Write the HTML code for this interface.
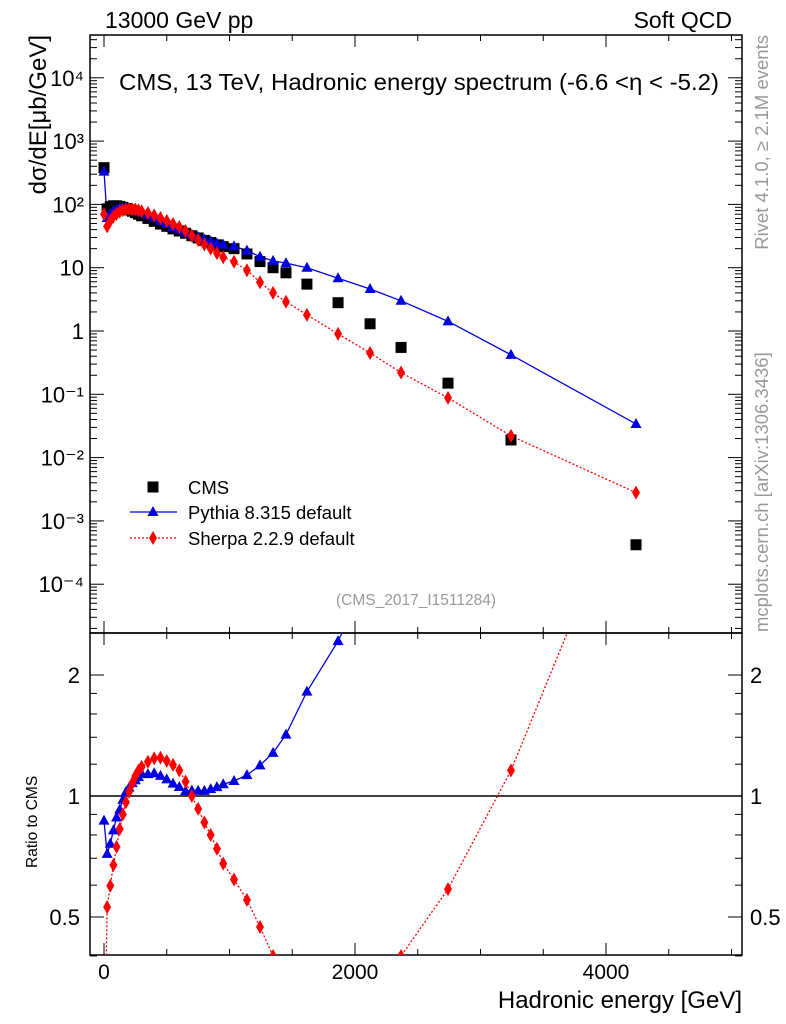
<!DOCTYPE html>
<html><head><meta charset="utf-8"><style>
html,body{margin:0;padding:0;background:#fff;width:786px;height:1024px;overflow:hidden}
svg{font-family:"Liberation Sans",sans-serif;display:block}
</style></head><body>
<svg id="chart" width="786" height="1024" xmlns="http://www.w3.org/2000/svg">
<text x="105" y="28" font-size="23">13000 GeV pp</text>
<text x="732" y="28" font-size="23" text-anchor="end">Soft QCD</text>
<text x="419" y="90" font-size="23" text-anchor="middle" textLength="600" lengthAdjust="spacingAndGlyphs">CMS, 13 TeV, Hadronic energy spectrum (-6.6 &lt;η &lt; -5.2)</text>
<text x="416" y="605" font-size="15.5" fill="#999" text-anchor="middle">(CMS_2017_I1511284)</text>
<text transform="translate(46,35) rotate(-90)" font-size="24" text-anchor="end">dσ/dE[μb/GeV]</text>
<text transform="translate(37,868) rotate(-90)" font-size="15.5">Ratio to CMS</text>
<text x="742" y="1008" font-size="24" text-anchor="end">Hadronic energy [GeV]</text>
<text transform="translate(768,35) rotate(-90)" font-size="18.5" fill="#999" text-anchor="end">Rivet 4.1.0, ≥ 2.1M events</text>
<text transform="translate(768,632) rotate(-90)" font-size="18.5" fill="#999">mcplots.cern.ch [arXiv:1306.3436]</text>
</svg>
<script>
const energies=[0,25,50,75,100,125,150,175,200,225,250,275,300,350,400,450,500,550,600,650,700,750,800,850,900,950,1036,1139,1243,1347,1450,1617,1865,2120,2367,2741,3243,4239];
const cmsValues=[380,85,92,95,95,93,90,86,82,78,74,70,66,60,54,49,45,41,38,35,32,29.5,27,25,23,21.5,20,16.5,12.5,10,8.3,5.5,2.8,1.3,0.55,0.15,0.019,0.00042];
const pythiaValues=[330,61,70,78,84,86,88,88,86,84,81,78,75,68,61.5,55,49.5,44,40,36,33,30.4,27.8,26,24.2,23,21.8,18.6,14.9,12.8,11.8,10,6.8,4.6,3.0,1.42,0.42,0.034];
const sherpaValues=[70,45,55,64,71,77,81,83,84,84,83,81,78,73,67,61,55,49,44,38,32,27.4,23.2,20,17,14.6,12.4,9.1,5.9,4.0,2.9,1.8,0.9,0.45,0.22,0.088,0.022,0.0028];
const yTickLabels=["10⁻⁴","10⁻³","10⁻²","10⁻¹","1","10","10²","10³","10⁴"];
const xTickLabels=["0","2000","4000"];
const ratioTickLabels=["0.5","1","2"];

const NS="http://www.w3.org/2000/svg";
const svg=document.getElementById('chart');
const L=90,R=742,T=35,M=633,B=955;
const xs=e=>104+e*0.1255;
const ys=v=>331-63.3*Math.log10(v);
const yr=r=>796-121*Math.log2(r);
function mk(tag,attrs,parent,text){const el=document.createElementNS(NS,tag);for(const k in attrs)el.setAttribute(k,attrs[k]);if(text!==undefined)el.textContent=text;(parent||svg).appendChild(el);return el;}

const defs=mk('defs',{});
const c1=mk('clipPath',{id:'cu'},defs);mk('rect',{x:L,y:T,width:R-L,height:M-T},c1);
const c2=mk('clipPath',{id:'cl'},defs);mk('rect',{x:L,y:M,width:R-L,height:B-M},c2);

let f=mk('rect',{x:L,y:T,width:R-L,height:M-T,fill:'none',stroke:'#000','stroke-width':1.5});


f=mk('rect',{x:L,y:M,width:R-L,height:B-M,fill:'none',stroke:'#000','stroke-width':1.5});



for(let e=0;e<=5000;e+=500){const maj=e%2000===0;const len=maj?12:6;const x=xs(e);
 [[M,-1],[T,1],[B,-1],[M,1]].forEach(([y0,d])=>mk('line',{x1:x,x2:x,y1:y0,y2:y0+d*len,stroke:'#000'}));}
xTickLabels.forEach((t,i)=>{const el=mk('text',{x:xs(i*2000),y:979,'font-size':21,'text-anchor':'middle'},svg,t);
 
 });
for(let p=-5;p<=4;p++){for(let m=1;m<10;m++){const v=m*Math.pow(10,p);const y=ys(v);if(y<T||y>M)continue;const len=m===1?14:7;
 mk('line',{x1:L,x2:L+len,y1:y,y2:y,stroke:'#000'});mk('line',{x1:R,x2:R-len,y1:y,y2:y,stroke:'#000'});}}
yTickLabels.forEach((t,i)=>{const p=i-4;const el=mk('text',{x:84,y:ys(Math.pow(10,p))+8,'font-size':22,'text-anchor':'end'},svg,t);
 
 });
[0.4,0.5,0.6,0.7,0.8,0.9,1,1.2,1.4,1.6,1.8,2].forEach(r=>{const y=yr(r);const maj=[0.5,1,2].includes(r);const len=maj?14:7;
 mk('line',{x1:L,x2:L+len,y1:y,y2:y,stroke:'#000'});mk('line',{x1:R,x2:R-len,y1:y,y2:y,stroke:'#000'});});
ratioTickLabels.forEach(t=>{const y=yr(parseFloat(t))+8;
 let el=mk('text',{x:80,y:y,'font-size':22,'text-anchor':'end'},svg,t);
 
 
 el=mk('text',{x:750,y:y,'font-size':22},svg,t);
 
 });
mk('line',{x1:L,x2:R,y1:yr(1),y2:yr(1),stroke:'#000','stroke-width':1.5});

function tri(g,x,y,col){mk('polygon',{points:`${x},${y-6} ${x-5.5},${y+4} ${x+5.5},${y+4}`,fill:col},g);}
function dia(g,x,y,col){mk('polygon',{points:`${x},${y-7} ${x-4},${y} ${x},${y+7} ${x+4},${y}`,fill:col},g);}
function sq(g,x,y){mk('rect',{x:x-5.5,y:y-5.5,width:11,height:11,fill:'#000'},g);}

const gu=mk('g',{'clip-path':'url(#cu)'});
let pl=mk('polyline',{points:energies.map((e,i)=>xs(e)+','+ys(pythiaValues[i])).join(' '),fill:'none',stroke:'#0000e0','stroke-width':1.3},gu);


pl=mk('polyline',{points:energies.map((e,i)=>xs(e)+','+ys(sherpaValues[i])).join(' '),fill:'none',stroke:'#f00','stroke-width':1.3,'stroke-dasharray':'2,2'},gu);


energies.forEach((e,i)=>{let g=mk('g',{},gu);sq(g,xs(e),ys(cmsValues[i]));});
energies.forEach((e,i)=>{let g=mk('g',{},gu);tri(g,xs(e),ys(pythiaValues[i]),'#0000e0');});
energies.forEach((e,i)=>{let g=mk('g',{},gu);dia(g,xs(e),ys(sherpaValues[i]),'#f00');});

const gl=mk('g',{'clip-path':'url(#cl)'});
pl=mk('polyline',{points:energies.map((e,i)=>xs(e)+','+yr(pythiaValues[i]/cmsValues[i])).join(' '),fill:'none',stroke:'#0000e0','stroke-width':1.3},gl);


pl=mk('polyline',{points:energies.map((e,i)=>xs(e)+','+yr(sherpaValues[i]/cmsValues[i])).join(' '),fill:'none',stroke:'#f00','stroke-width':1.3,'stroke-dasharray':'2,2'},gl);


energies.forEach((e,i)=>{let g=mk('g',{},gl);tri(g,xs(e),yr(pythiaValues[i]/cmsValues[i]),'#0000e0');});
energies.forEach((e,i)=>{let g=mk('g',{},gl);dia(g,xs(e),yr(sherpaValues[i]/cmsValues[i]),'#f00');});

let lg=mk('g',{});
sq(lg,153,487);mk('text',{x:188,y:494,'font-size':18.5},lg,'CMS');
mk('line',{x1:130,x2:177,y1:512,y2:512,stroke:'#0000e0','stroke-width':1.3},lg);tri(lg,153,512,'#0000e0');
mk('text',{x:188,y:519,'font-size':18.5},lg,'Pythia 8.315 default');
mk('line',{x1:130,x2:177,y1:538,y2:538,stroke:'#f00','stroke-width':1.3,'stroke-dasharray':'2,2'},lg);dia(lg,153,538,'#f00');
mk('text',{x:188,y:545,'font-size':18.5},lg,'Sherpa 2.2.9 default');
</script>
</body></html>
